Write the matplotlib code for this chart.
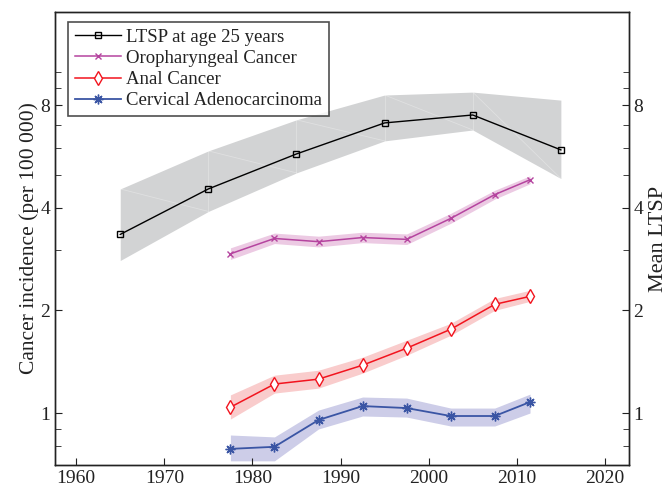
import matplotlib.pyplot as plt
from matplotlib.ticker import FixedLocator, NullFormatter

plt.rcParams['font.family'] = ['Liberation Serif', 'DejaVu Serif']

# lifetime sexual partners (LTSP) at age 25, by birth cohort
ltsp_years = [1965, 1975, 1985, 1995, 2005, 2015]
ltsp_mean = [3.34, 4.54, 5.75, 7.09, 7.48, 5.91]
ltsp_low = [2.80, 3.90, 5.06, 6.28, 6.76, 4.87]
ltsp_high = [4.54, 5.87, 7.24, 8.56, 8.73, 8.27]

# cancer incidence per 100 000, by diagnosis period
inc_years = [1977.5, 1982.5, 1987.5, 1992.5, 1997.5, 2002.5, 2007.5, 2011.5]

oro = [2.93, 3.25, 3.18, 3.27, 3.23, 3.72, 4.37, 4.83]
oro_low = [2.82, 3.14, 3.07, 3.16, 3.12, 3.60, 4.24, 4.70]
oro_high = [3.05, 3.37, 3.30, 3.39, 3.35, 3.85, 4.50, 4.96]

anal = [1.04, 1.216, 1.257, 1.381, 1.549, 1.760, 2.083, 2.198]
anal_low = [0.96, 1.144, 1.183, 1.309, 1.477, 1.690, 2.00, 2.125]
anal_high = [1.13, 1.291, 1.335, 1.458, 1.634, 1.832, 2.167, 2.29]

cervix = [0.785, 0.796, 0.954, 1.048, 1.034, 0.980, 0.980, 1.077]
cervix_low = [0.724, 0.724, 0.898, 0.980, 0.973, 0.916, 0.916, 1.0]
cervix_high = [0.862, 0.851, 1.020, 1.114, 1.106, 1.034, 1.034, 1.136]

yticks = [1, 2, 4, 8]
minor_ticks = [0.8, 0.9, 3, 5, 6, 7, 9, 10]
xticks = [1960, 1970, 1980, 1990, 2000, 2010, 2020]

ink = '#222222'

fig = plt.figure(figsize=(6.71, 4.93), dpi=100)
ax = fig.add_axes([0.082, 0.0568, 0.855, 0.919])

ax.fill_between(ltsp_years, ltsp_low, ltsp_high, color='#d2d3d4', lw=0)
# faint seams where the shaded band is split into triangles
for i in range(len(ltsp_years) - 1):
    x0, x1 = ltsp_years[i], ltsp_years[i + 1]
    ax.plot([x0, x1], [ltsp_high[i], ltsp_low[i + 1]], color='white',
            lw=0.6, alpha=0.3)
    if i > 0:
        ax.plot([x0, x0], [ltsp_low[i], ltsp_high[i]], color='white',
                lw=0.6, alpha=0.3)
ax.fill_between(inc_years, oro_low, oro_high, color='#eccae3', lw=0)
ax.fill_between(inc_years, anal_low, anal_high, color='#f9cccc', lw=0)
ax.fill_between(inc_years, cervix_low, cervix_high, color='#cdcde8', lw=0)

ax.plot(ltsp_years, ltsp_mean, color='k', lw=1, marker='s', ms=5,
        mfc='none', mec='k', mew=1, label='LTSP at age 25 years')
ax.plot(inc_years, oro, color='#b5449f', lw=1.1, marker='x', ms=5,
        mew=1, label='Oropharyngeal Cancer')
ax.plot(inc_years, anal, color='#f2141e', lw=1.1, marker='d', ms=7.5,
        mfc='white', mec='#f2141e', mew=1, label='Anal Cancer')
ax.plot(inc_years, cervix, color='#3a55a4', lw=1.3, marker=(8, 2, 0), ms=7,
        mew=1, label='Cervical Adenocarcinoma')

ax.set_yscale('log')
ax.set_xlim(1957.6, 2022.7)
ax.set_ylim(0.704, 15.0)
ax.set_xticks(xticks)
ax.set_yticks(yticks)
ax.set_yticklabels([str(t) for t in yticks])
ax.yaxis.set_minor_locator(FixedLocator(minor_ticks))
ax.yaxis.set_minor_formatter(NullFormatter())
ax.tick_params(axis='both', which='both', direction='in', labelsize=14,
               colors=ink, top=False, right=False)
ax.tick_params(axis='both', which='major', length=5)
ax.tick_params(axis='y', which='minor', length=4)
ax.set_ylabel('Cancer incidence (per 100 000)', fontsize=15.5, color=ink,
              labelpad=1)
for s in ax.spines.values():
    s.set_linewidth(1)
    s.set_color(ink)

ax2 = ax.twinx()
ax2.set_yscale('log')
ax2.set_ylim(ax.get_ylim())
ax2.set_yticks(yticks)
ax2.set_yticklabels([str(t) for t in yticks])
ax2.yaxis.set_minor_locator(FixedLocator(minor_ticks))
ax2.yaxis.set_minor_formatter(NullFormatter())
ax2.tick_params(axis='y', which='both', direction='in', labelsize=14,
                colors=ink)
ax2.tick_params(axis='y', which='major', length=5)
ax2.tick_params(axis='y', which='minor', length=4)
ax2.set_ylabel('Mean LTSP', fontsize=16, color=ink, labelpad=4)
for s in ax2.spines.values():
    s.set_linewidth(1)
    s.set_color(ink)

leg = ax.legend(loc='upper left', bbox_to_anchor=(0.0227, 0.978),
                fontsize=13.5, frameon=True, fancybox=False,
                handlelength=2.5, handletextpad=0.25, borderpad=0.35,
                labelspacing=0.22, borderaxespad=0)
leg.get_frame().set_edgecolor(ink)
leg.get_frame().set_linewidth(1.2)
for t in leg.get_texts():
    t.set_color(ink)

fig.savefig('out.png', dpi=100)
